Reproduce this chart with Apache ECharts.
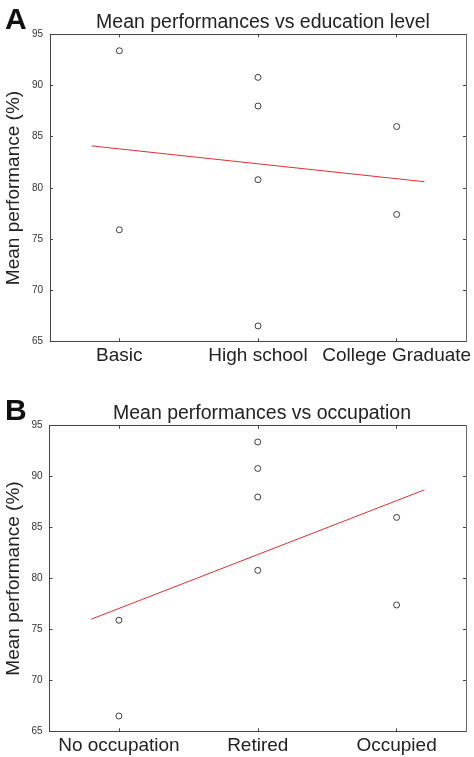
<!DOCTYPE html>
<html><head><meta charset="utf-8">
<script src="https://cdn.jsdelivr.net/npm/echarts@6/dist/echarts.min.js"></script>
<style>html,body{margin:0;padding:0;background:#fff}#c{width:474px;height:757px}</style>
</head><body><div id="c"></div>
<script>
const catsA = ['Basic', 'High school', 'College Graduate'];
const catsB = ['No occupation', 'Retired', 'Occupied'];
const titleA = 'Mean performances vs education level';
const titleB = 'Mean performances vs occupation';
const yName = 'Mean performance (%)';
const yTicks = [65, 70, 75, 80, 85, 90, 95];
// points: [category index (1-based), mean performance %]
const pointsA = [[1, 93.4], [1, 75.9], [2, 90.8], [2, 88.0], [2, 80.8], [2, 66.5], [3, 86.0], [3, 77.4]];
const pointsB = [[1, 75.9], [1, 66.5], [2, 93.4], [2, 90.8], [2, 88.0], [2, 80.8], [3, 86.0], [3, 77.4]];
// fitted line endpoints
const fitA = [[0.8, 84.1], [3.2, 80.6]];
const fitB = [[0.8, 76.0], [3.2, 88.7]];

const FONT = 'Liberation Sans, Arial, sans-serif';
const axisCol = '#444';
function xAxes(gi, cats) {
  return [{
    type: 'value', gridIndex: gi, position: 'bottom', min: 0.5, max: 3.5,
    axisLine: {show: true, onZero: false, lineStyle: {color: axisCol, width: 1}},
    axisTick: {show: true, inside: true, length: 3, customValues: [1, 2, 3], lineStyle: {color: axisCol}},
    axisLabel: {show: true, customValues: [1, 2, 3], formatter: v => cats[Math.round(v) - 1], fontFamily: FONT, fontSize: 19, color: '#222', margin: 5},
    splitLine: {show: false}
  }, {
    type: 'value', gridIndex: gi, position: 'top', min: 0.5, max: 3.5,
    axisLine: {show: true, onZero: false, lineStyle: {color: axisCol, width: 1}},
    axisTick: {show: true, inside: true, length: 3, customValues: [1, 2, 3], lineStyle: {color: axisCol}},
    axisLabel: {show: false}, splitLine: {show: false}
  }];
}
function yAxes(gi) {
  return [{
    type: 'value', gridIndex: gi, position: 'left', min: 65, max: 95, interval: 5,
    axisLine: {show: true, onZero: false, lineStyle: {color: axisCol, width: 1}},
    axisTick: {show: true, inside: true, length: 3, lineStyle: {color: axisCol}},
    axisLabel: {show: true, customValues: yTicks, fontFamily: FONT, fontSize: 10, color: '#333', margin: 7},
    splitLine: {show: false}
  }, {
    type: 'value', gridIndex: gi, position: 'right', min: 65, max: 95, interval: 5,
    axisLine: {show: true, onZero: false, lineStyle: {color: '#666', width: 1}},
    axisTick: {show: true, inside: true, length: 3, lineStyle: {color: axisCol}},
    axisLabel: {show: false}, splitLine: {show: false}
  }];
}
function yNameText(cy) {
  return {type: 'text', x: 13.5, y: cy, rotation: Math.PI / 2,
    style: {text: yName, font: '19px ' + FONT, fill: '#222', align: 'center', verticalAlign: 'middle'}};
}
const chart = echarts.init(document.getElementById('c'), null, {renderer: 'canvas'});
const scatterStyle = {color: 'transparent', borderColor: '#111', borderWidth: 1};
chart.setOption({
  animation: false,
  backgroundColor: '#fff',
  title: [
    {text: 'A', left: 0, top: 1, textStyle: {fontFamily: FONT, fontSize: 30, fontWeight: 'bold', color: '#111'}},
    {text: titleA, left: 258, top: 8, textAlign: 'center', textStyle: {fontFamily: FONT, fontSize: 19.5, fontWeight: 'normal', color: '#222'}},
    {text: 'B', left: 0, top: 392, textStyle: {fontFamily: FONT, fontSize: 30, fontWeight: 'bold', color: '#111'}},
    {text: titleB, left: 257, top: 399, textAlign: 'center', textStyle: {fontFamily: FONT, fontSize: 19.5, fontWeight: 'normal', color: '#222'}}
  ],
  graphic: [yNameText(188), yNameText(578.5)],
  grid: [
    {left: 50, right: 8, top: 34.4, bottom: 415.7, outerBoundsMode: 'none', containLabel: false},
    {left: 49.5, right: 8, top: 425.7, bottom: 25.7, outerBoundsMode: 'none', containLabel: false}
  ],
  xAxis: [...xAxes(0, catsA), ...xAxes(1, catsB)],
  yAxis: [...yAxes(0), ...yAxes(1)],
  series: [
    {type: 'scatter', xAxisIndex: 0, yAxisIndex: 0, data: pointsA, symbol: 'circle', symbolSize: 6, itemStyle: scatterStyle},
    {type: 'line', xAxisIndex: 0, yAxisIndex: 0, data: fitA, symbol: 'none', lineStyle: {color: '#e0302f', width: 1}},
    {type: 'scatter', xAxisIndex: 2, yAxisIndex: 2, data: pointsB, symbol: 'circle', symbolSize: 6, itemStyle: scatterStyle},
    {type: 'line', xAxisIndex: 2, yAxisIndex: 2, data: fitB, symbol: 'none', lineStyle: {color: '#e0302f', width: 1}}
  ]
});
</script>
</body></html>
